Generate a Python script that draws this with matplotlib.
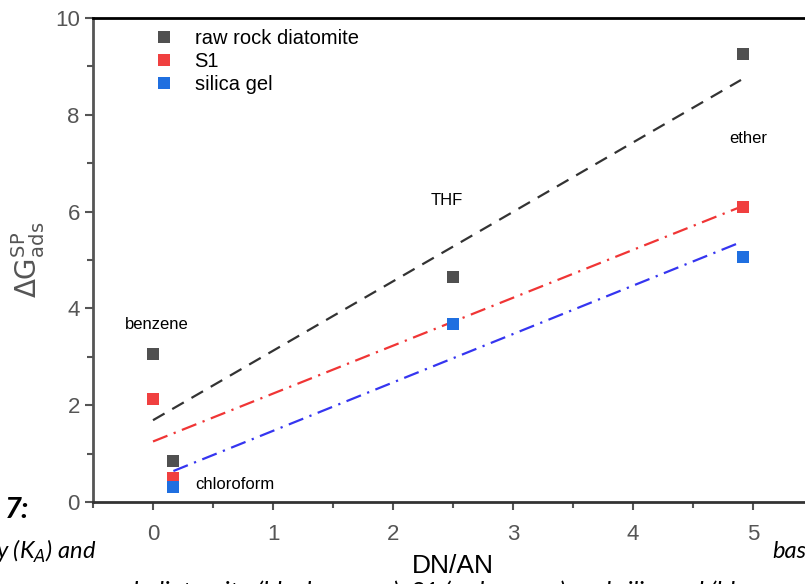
import numpy as np
import matplotlib.pyplot as plt

# data
dn_an = [0.0, 0.17, 2.5, 4.92]
raw_rock = [3.05, 0.85, 4.65, 9.25]
s1 = [2.13, 0.50, 3.67, 6.10]
silica_x = [0.17, 2.5, 4.92]
silica_gel = [0.30, 3.67, 5.07]

# fitted lines (end points)
fit_raw_x, fit_raw_y = [0.0, 4.9], [1.69, 8.72]
fit_s1_x, fit_s1_y = [0.0, 4.9], [1.25, 6.10]
fit_sg_x, fit_sg_y = [0.17, 4.9], [0.64, 5.37]

solvents = ['benzene', 'chloroform', 'THF', 'ether']
label_x = [0.03, 0.35, 2.45, 4.96]
label_y = [3.66, 0.37, 6.22, 7.5]
label_ha = ['center', 'left', 'center', 'center']

c_raw, c_s1, c_sg = '#505050', '#F04040', '#1F6FE0'
gray = '#555555'

fig = plt.figure(figsize=(8.05, 5.84), dpi=100)
ax = fig.add_axes([93 / 805, 1 - 502 / 584, 720 / 805, 484 / 584])

ax.plot(fit_raw_x, fit_raw_y, color='#333333', lw=1.6, ls=(0, (6, 4)))
ax.plot(fit_s1_x, fit_s1_y, color='#F03535', lw=1.6, ls=(0, (7, 3, 1, 3)))
ax.plot(fit_sg_x, fit_sg_y, color='#3535F0', lw=1.6, ls=(0, (7, 3, 1, 3)))

ax.plot(dn_an, raw_rock, 's', color=c_raw, ms=9, mew=0, label='raw rock diatomite')
ax.plot(dn_an, s1, 's', color=c_s1, ms=9, mew=0, label='S1')
ax.plot(silica_x, silica_gel, 's', color=c_sg, ms=9, mew=0, label='silica gel')

for name, x, y, ha in zip(solvents, label_x, label_y, label_ha):
    ax.text(x, y, name, ha=ha, va='center', fontsize=12, family='Liberation Sans')

ax.set_xlim(-0.5, 5.5)
ax.set_ylim(0, 10)
ax.set_xticks(range(6))
ax.set_xticks(np.arange(-0.5, 5.6, 0.5), minor=True)
ax.set_yticks(range(0, 11, 2))
ax.set_yticks(range(1, 10, 2), minor=True)
ax.tick_params(which='both', direction='out', colors=gray, labelsize=16, width=1.5)
ax.tick_params(which='major', length=6)
ax.tick_params(which='minor', length=4)
ax.tick_params(axis='x', pad=10)
for lab in ax.get_xticklabels() + ax.get_yticklabels():
    lab.set_family('Liberation Sans')

ax.spines['left'].set_color(gray)
ax.spines['left'].set_linewidth(2)
ax.spines['bottom'].set_color('#333333')
ax.spines['bottom'].set_linewidth(2)
ax.spines['top'].set_color('black')
ax.spines['top'].set_linewidth(2)
ax.spines['right'].set_visible(False)

ax.set_xlabel('DN/AN', fontsize=19, family='Liberation Sans', labelpad=6)
ax.set_ylabel(r'$\Delta\mathrm{G}^{\mathrm{SP}}_{\mathrm{ads}}$', fontsize=20,
              color=gray, labelpad=6)

ax.legend(loc='upper left', bbox_to_anchor=(0.06, 1.015), frameon=False,
          prop={'family': 'Liberation Sans', 'size': 14.5}, handletextpad=1.0,
          labelspacing=0.2, handlelength=1.0)

# page text around the cropped figure
fig.text(5 / 805, 1 - 510 / 584, '7:', fontsize=21, style='italic', fontweight='bold',
         family='Lato', va='center')
fig.text(-12 / 805, 1 - 551 / 584, r'ry (K$_A$) and', fontsize=17, style='italic',
         family='Lato', va='center')
fig.text(772 / 805, 1 - 551 / 584, 'basic', fontsize=17, style='italic',
         family='Lato', va='center')
fig.text(100 / 805, 1 - 592 / 584, 'rock diatomite (black square), S1 (red square) and silica gel (blue',
         fontsize=18, style='italic', family='Lato', va='center')

fig.savefig('out.png', dpi=100)
